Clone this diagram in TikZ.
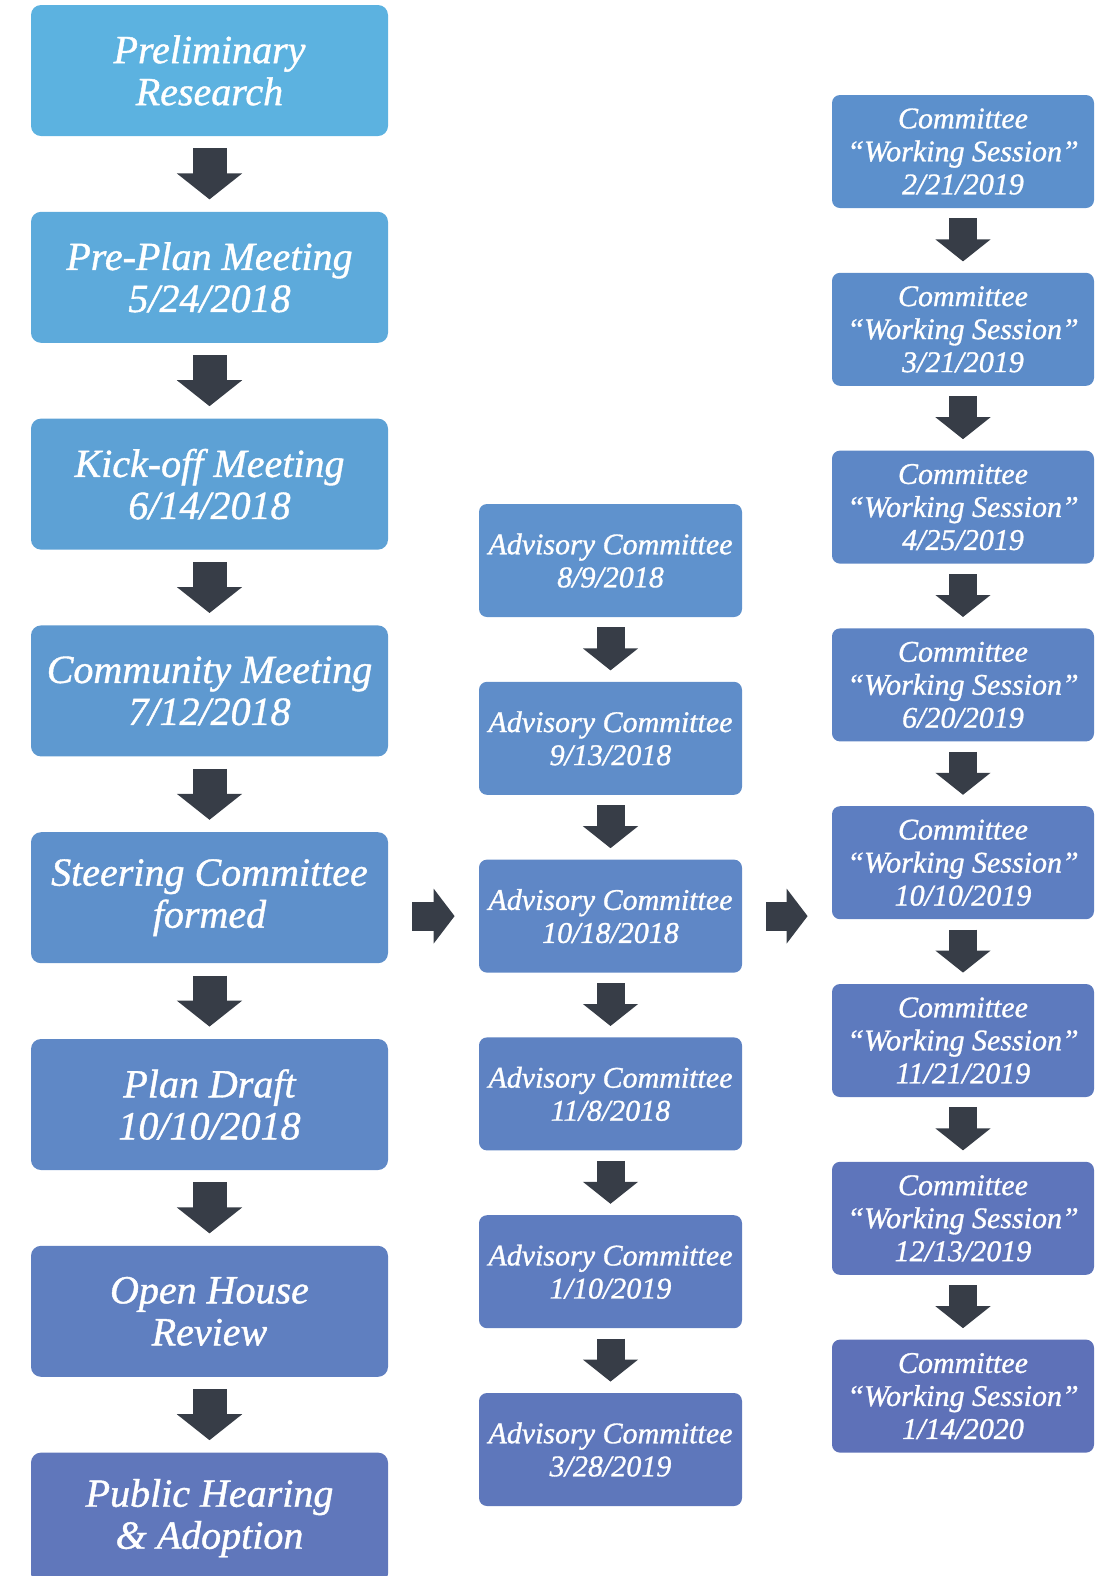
\documentclass[tikz,border=0pt]{standalone}
\usepackage{fontspec}
\setmainfont{Liberation Serif}[ItalicFeatures={FakeBold=1}]
\usetikzlibrary{positioning}
\usetikzlibrary{arrows.meta}
\definecolor{ltop}{HTML}{5CB2E0}
\definecolor{lbot}{HTML}{6077BB}
\definecolor{mtop}{HTML}{5F92CD}
\definecolor{mbot}{HTML}{5E77BB}
\definecolor{rtop}{HTML}{5C90CC}
\definecolor{rbot}{HTML}{5E71B8}
\definecolor{blkc}{HTML}{373D47}
\tikzstyle{big}=[rectangle, rounded corners=5pt, inner sep=0pt, minimum width=178.5pt, minimum height=65.5pt, align=center, text=white, font=\fontsize{20}{21}\selectfont\itshape]
\tikzstyle{small}=[rectangle, rounded corners=4pt, inner sep=0pt, minimum width=131.5pt, minimum height=56.5pt, align=center, text=white, font=\fontsize{15}{16.5}\selectfont\itshape]
\tikzstyle{bigarr}=[color=blkc, line width=17pt, -{Triangle[width=32pt,length=13pt]}, shorten <=6pt, shorten >=6pt]
\tikzstyle{smallarr}=[color=blkc, line width=14pt, -{Triangle[width=27pt,length=11pt]}, shorten <=5pt, shorten >=5.5pt]
\tikzstyle{sidearr}=[color=blkc, line width=14.5pt, -{Triangle[width=27pt,length=10.5pt]}, shorten <=12pt, shorten >=12pt]
\def\ws{Committee\\“Working Session”\\}

\begin{document}
\begin{tikzpicture}[x=0.5pt, y=-0.5pt]
      \useasboundingbox (0,0) rectangle (1094,1576);
      % left column
      \node [big, fill=ltop] (pre) at (209.5,70.5) {Preliminary\\Research};
      \node [big, fill=ltop!86!lbot, below=37.5pt of pre] (plan) {Pre-Plan Meeting\\5/24/2018};
      \node [big, fill=ltop!71!lbot, below=37.5pt of plan] (kick) {Kick-off Meeting\\6/14/2018};
      \node [big, fill=ltop!57!lbot, below=37.5pt of kick] (comm) {Community Meeting\\7/12/2018};
      \node [big, fill=ltop!43!lbot, below=37.5pt of comm] (steer) {Steering Committee\\formed};
      \node [big, fill=ltop!29!lbot, below=37.5pt of steer] (draft) {Plan Draft\\10/10/2018};
      \node [big, fill=ltop!14!lbot, below=37.5pt of draft] (open) {Open House\\Review};
      \node [big, fill=lbot, below=37.5pt of open] (hear) {Public Hearing\\\& Adoption};

      % middle column
      \node [small, fill=mtop] (a1) at (610.5,560.5) {Advisory Committee\\8/9/2018};
      \node [small, fill=mtop!80!mbot, below=32pt of a1] (a2) {Advisory Committee\\9/13/2018};
      \node [small, fill=mtop!60!mbot, below=32pt of a2] (a3) {Advisory Committee\\10/18/2018};
      \node [small, fill=mtop!40!mbot, below=32pt of a3] (a4) {Advisory Committee\\11/8/2018};
      \node [small, fill=mtop!20!mbot, below=32pt of a4] (a5) {Advisory Committee\\1/10/2019};
      \node [small, fill=mbot, below=32pt of a5] (a6) {Advisory Committee\\3/28/2019};

      % right column
      \node [small, minimum width=131pt, fill=rtop] (w1) at (963,151.5) {\ws 2/21/2019};
      \node [small, minimum width=131pt, fill=rtop!86!rbot, below=32pt of w1] (w2) {\ws 3/21/2019};
      \node [small, minimum width=131pt, fill=rtop!71!rbot, below=32pt of w2] (w3) {\ws 4/25/2019};
      \node [small, minimum width=131pt, fill=rtop!57!rbot, below=32pt of w3] (w4) {\ws 6/20/2019};
      \node [small, minimum width=131pt, fill=rtop!43!rbot, below=32pt of w4] (w5) {\ws 10/10/2019};
      \node [small, minimum width=131pt, fill=rtop!29!rbot, below=32pt of w5] (w6) {\ws 11/21/2019};
      \node [small, minimum width=131pt, fill=rtop!14!rbot, below=32pt of w6] (w7) {\ws 12/13/2019};
      \node [small, minimum width=131pt, fill=rbot, below=32pt of w7] (w8) {\ws 1/14/2020};

      \path [bigarr] (pre) edge (plan) (plan) edge (kick) (kick) edge (comm)
                     (comm) edge (steer) (steer) edge (draft) (draft) edge (open)
                     (open) edge (hear);
      \path [smallarr] (a1) edge (a2) (a2) edge (a3) (a3) edge (a4)
                       (a4) edge (a5) (a5) edge (a6);
      \path [smallarr] (w1) edge (w2) (w2) edge (w3) (w3) edge (w4) (w4) edge (w5)
                       (w5) edge (w6) (w6) edge (w7) (w7) edge (w8);
      \path [sidearr] (steer.east |- a3) edge (a3)
                      (a3) edge (a3.east -| w1.west);
\end{tikzpicture}
\end{document}
